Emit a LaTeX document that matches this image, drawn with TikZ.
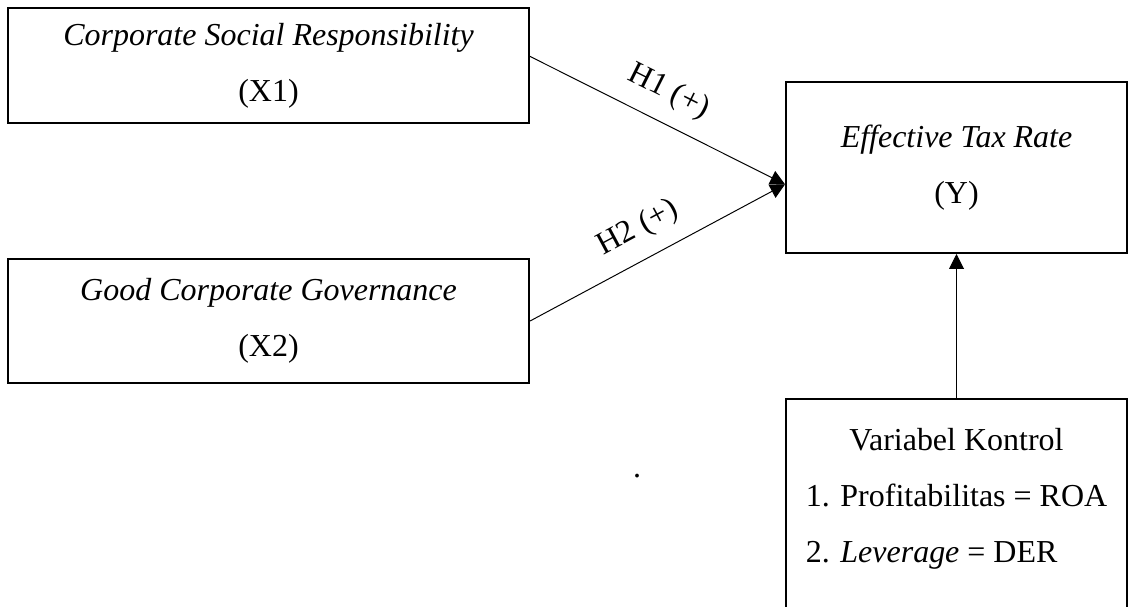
\documentclass[tikz,border=0pt]{standalone}
\usepackage{fontspec}
\setmainfont{Liberation Serif}
\usepackage{tikz}
\usetikzlibrary{arrows.meta}

\begin{document}
\begin{tikzpicture}[font=\fontsize{13}{22.8}\selectfont,
    varbox/.style={draw, line width=0.8pt, align=center, inner sep=0pt},
    hyp/.style={-{Triangle[length=6pt,width=6pt]}, line width=0.4pt}]
    \useasboundingbox (0, 0) rectangle (16.157, -8.671);
    \clip (0, 0) rectangle (16.157, -8.671);
    \node[varbox, minimum width=7.443cm, minimum height=1.643cm] (X1) at (3.836, -0.936) {\textit{Corporate Social Responsibility}\\(X1)};
    \node[varbox, minimum width=7.443cm, minimum height=1.771cm] (X2) at (3.836, -4.586) {\textit{Good Corporate Governance}\\(X2)};
    \node[varbox, minimum width=4.871cm, minimum height=2.443cm] (Y) at (13.664, -2.393) {\textit{Effective Tax Rate}\\(Y)};
    \node[varbox, minimum width=4.871cm, anchor=north, inner ysep=5pt, text depth=3.5cm] (K) at (13.664, -5.686)
      {\begin{tabular}[t]{@{}l@{}}
        \multicolumn{1}{c}{Variabel Kontrol}\\
        1. Profitabilitas = ROA\\
        2. \textit{Leverage} = DER
      \end{tabular}};
    \coordinate (tip) at ([yshift=-0.24cm]Y.west);
    \draw[hyp] ([yshift=0.13cm]X1.east) -- node[sloped, above=3pt, pos=0.49] (h1) {H1 (+)} (tip);
    \draw[hyp] (X2.east) -- node[sloped, above=3pt, pos=0.48] (h2) {H2 (+)} (tip);
    \draw[hyp] (K.north) -- (Y.south);
    \node (dot) at (9.1, -6.8) {.};
  \end{tikzpicture}
\end{document}
